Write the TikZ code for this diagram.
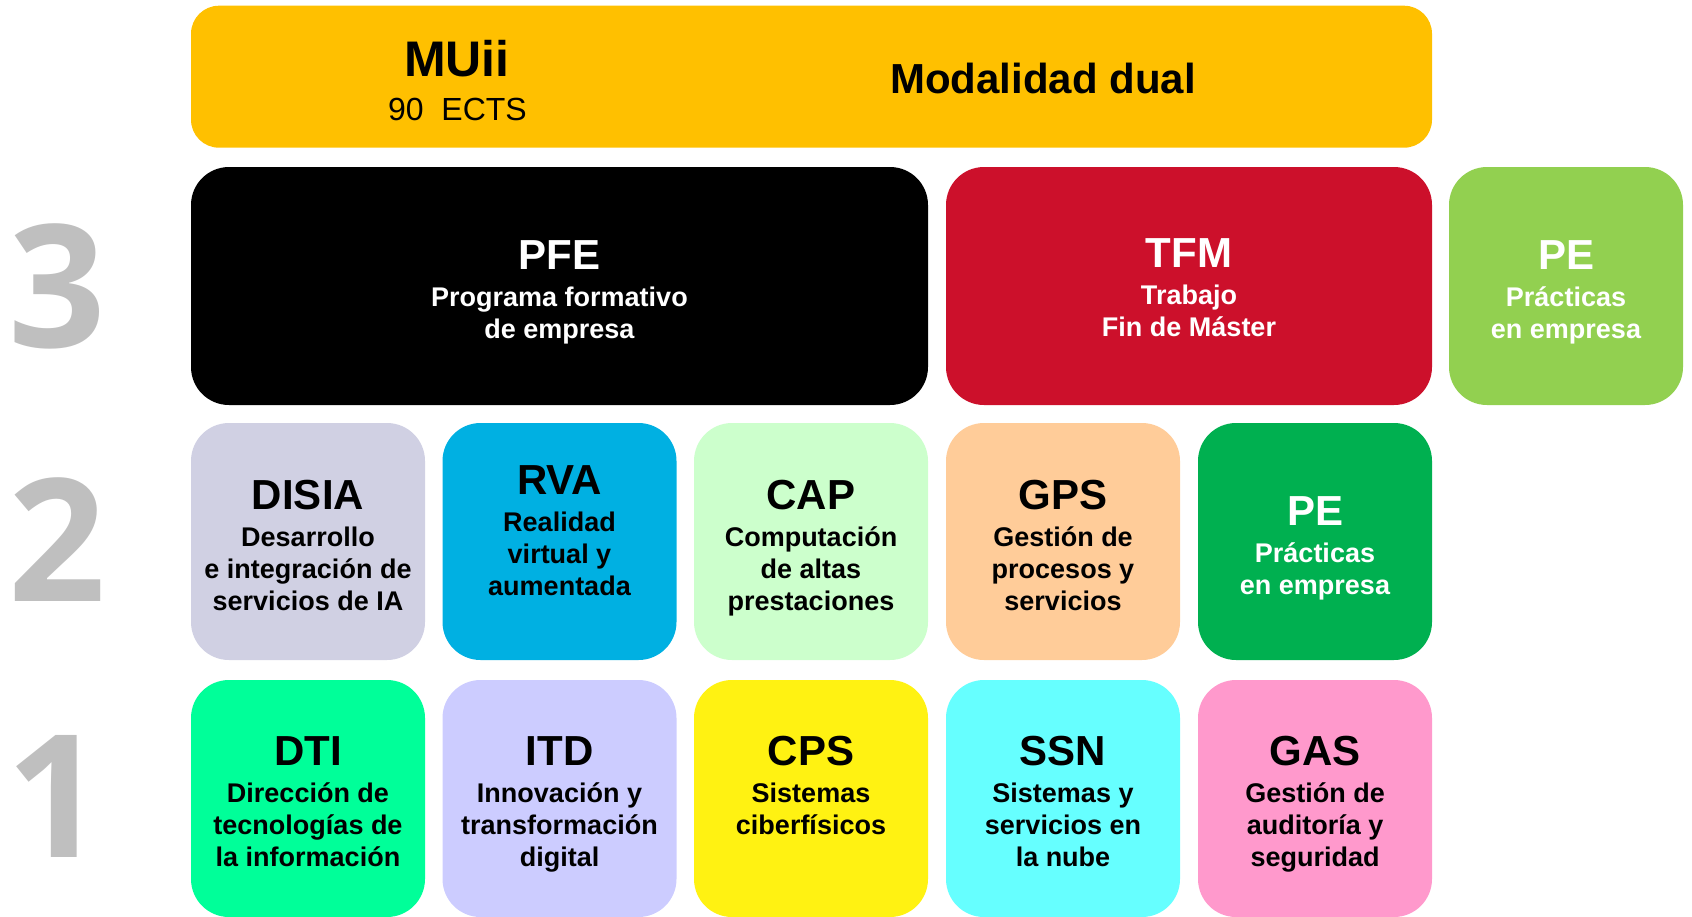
\documentclass[tikz,border=0pt]{standalone}
\usepackage{fontspec}
\setmainfont{Liberation Sans}
\newfontfamily\numfont{Open Sans}
\usepackage{tikz}

% module colours
\definecolor{muiibar}{HTML}{FFC000}
\definecolor{tfmred}{HTML}{CC102B}
\definecolor{peleaf}{HTML}{92D050}
\definecolor{disiagrey}{HTML}{D0D0E3}
\definecolor{rvablue}{HTML}{00B0E2}
\definecolor{capmint}{HTML}{CCFFCC}
\definecolor{gpspeach}{HTML}{FFCC99}
\definecolor{pegreen}{HTML}{00B050}
\definecolor{dtigreen}{HTML}{00FF99}
\definecolor{itdlilac}{HTML}{CCCCFF}
\definecolor{cpsyellow}{HTML}{FFF212}
\definecolor{ssncyan}{HTML}{66FFFF}
\definecolor{gaspink}{HTML}{FF99CC}
\definecolor{numgrey}{HTML}{BFBFBF}

\tikzset{
  modbox/.style={rounded corners=38pt, inner sep=0pt, minimum width=234pt, minimum height=237pt},
  modtxt/.style={anchor=north, inner sep=0pt, align=center, font=\bfseries\fontsize{27}{32}\selectfont},
  levelnum/.style={anchor=base, inner sep=0pt, text=numgrey, font=\numfont\bfseries\fontsize{171}{171}\selectfont},
}
\newcommand{\acr}[1]{{\fontsize{42}{42}\selectfont #1}\\[5pt]}

\begin{document}
\begin{tikzpicture}[x=1pt,y=-1pt]
\useasboundingbox (0,0) rectangle (1692,916);

% header bar
\node[rounded corners=28pt, inner sep=0pt, minimum width=1241pt, minimum height=142pt, fill=muiibar] (muii) at (811.5,76.7) {};
\node[anchor=base, inner sep=0pt, font=\bfseries\fontsize{50}{50}\selectfont] (muii-name) at (457,76.7) {MUii};
\node[anchor=base, inner sep=0pt, font=\fontsize{32}{32}\selectfont] (muii-ects) at (457.5,120) {90\ \ ECTS};
\node[anchor=base, inner sep=0pt, font=\bfseries\fontsize{42}{42}\selectfont] (muii-dual) at (1043,93.3) {Modalidad dual};

% level numbers
\node[levelnum] (lev3) at (57,347) {3};
\node[levelnum] (lev2) at (57,601) {2};
\node[levelnum] (lev1) at (55,857) {1};

% level 3
\node[modbox, minimum width=737pt, minimum height=238pt, fill=black] (pfe) at (559.5,286) {};
\node[modbox, minimum width=486pt, minimum height=238pt, fill=tfmred] (tfm) at (1189,286) {};
\node[modbox, minimum height=238pt, fill=peleaf] (pe3) at (1566,286) {};
\node[modtxt, text=white] (pfe-t) at (559.5,240) {\acr{PFE}Programa formativo\\de empresa};
\node[modtxt, text=white] (tfm-t) at (1189,238) {\acr{TFM}Trabajo\\Fin de Máster};
\node[modtxt, text=white] (pe3-t) at (1566,240) {\acr{PE}Prácticas\\en empresa};

% level 2
\node[modbox, fill=disiagrey] (disia) at (308,541.5) {};
\node[modbox, fill=rvablue] (rva) at (559.5,541.5) {};
\node[modbox, fill=capmint] (cap) at (811,541.5) {};
\node[modbox, fill=gpspeach] (gps) at (1063,541.5) {};
\node[modbox, fill=pegreen] (pe2) at (1315,541.5) {};
\node[modtxt] (disia-t) at (308,480) {\acr{DISIA}Desarrollo\\e integración de\\servicios de IA};
\node[modtxt] (rva-t) at (559.5,465) {\acr{RVA}Realidad\\virtual y\\aumentada};
\node[modtxt] (cap-t) at (811,480) {\acr{CAP}Computación\\de altas\\prestaciones};
\node[modtxt] (gps-t) at (1063,480) {\acr{GPS}Gestión de\\procesos y\\servicios};
\node[modtxt, text=white] (pe2-t) at (1315,496) {\acr{PE}Prácticas\\en empresa};

% level 1
\node[modbox, fill=dtigreen] (dti) at (308,798.5) {};
\node[modbox, fill=itdlilac] (itd) at (559.5,798.5) {};
\node[modbox, fill=cpsyellow] (cps) at (811,798.5) {};
\node[modbox, fill=ssncyan] (ssn) at (1063,798.5) {};
\node[modbox, fill=gaspink] (gas) at (1315,798.5) {};
\node[modtxt] (dti-t) at (308,736) {\acr{DTI}Dirección de\\tecnologías de\\la información};
\node[modtxt] (itd-t) at (559.5,736) {\acr{ITD}Innovación y\\transformación\\digital};
\node[modtxt] (cps-t) at (811,736) {\acr{CPS}Sistemas\\ciberfísicos};
\node[modtxt] (ssn-t) at (1063,736) {\acr{SSN}Sistemas y\\servicios en\\la nube};
\node[modtxt] (gas-t) at (1315,736) {\acr{GAS}Gestión de\\auditoría y\\seguridad};
\end{tikzpicture}
\end{document}
